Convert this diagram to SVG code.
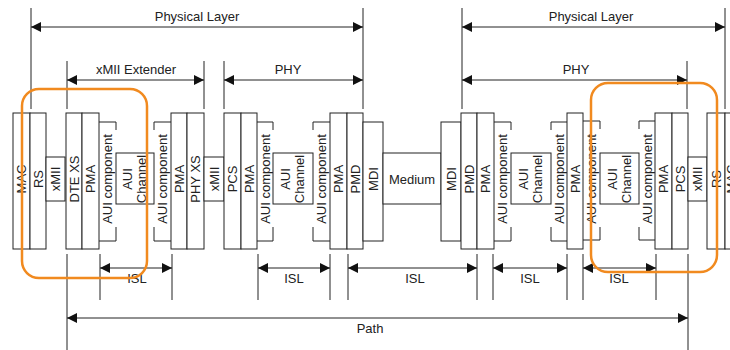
<svg xmlns="http://www.w3.org/2000/svg" width="730" height="350" viewBox="0 0 730 350">
<style>
.b{fill:#fff;stroke:#222;stroke-width:1}
.c{fill:none;stroke:#222;stroke-width:1}
.t{font-family:"Liberation Sans",Arial,sans-serif;font-size:13px;fill:#222;text-anchor:middle}
.ln{stroke:#222;stroke-width:1;fill:none}
.arr{stroke:#222;stroke-width:1;fill:none;marker-start:url(#ah);marker-end:url(#ah)}
.hl{fill:none;stroke:#F18A1F;stroke-width:2.5}
</style>
<defs>
<marker id="ah" viewBox="0 0 10 10" refX="10" refY="5" markerWidth="10" markerHeight="10" markerUnits="userSpaceOnUse" orient="auto-start-reverse"><path d="M0,0 L10,5 L0,10 z" fill="#111"/></marker>
</defs>
<rect width="730" height="350" fill="#fff"/>

<g id="connectors">
<path class="ln" d="M31,8 V109 M363,8 V109 M462,8 V109 M725,8 V109 M67,61 V109 M204,61 V109 M224,61 V109 M687,61 V109"/>
<path class="ln" d="M67,254 V350 M688,254 V350"/>
<path class="ln" d="M100,254 V300 M172,254 V300 M258,254 V300 M330,254 V300 M348,254 V300 M477,254 V300 M493,254 V300 M567,254 V300 M583,254 V300 M656,254 V300"/>
<line class="arr" x1="31" y1="27" x2="363" y2="27"/>
<line class="arr" x1="462" y1="27" x2="725" y2="27"/>
<line class="arr" x1="67" y1="80" x2="204" y2="80"/>
<line class="arr" x1="224" y1="80" x2="363" y2="80"/>
<line class="arr" x1="462" y1="80" x2="687" y2="80"/>
<line class="arr" x1="100" y1="268" x2="172" y2="268"/>
<line class="arr" x1="258" y1="268" x2="330" y2="268"/>
<line class="arr" x1="348" y1="268" x2="477" y2="268"/>
<line class="arr" x1="493" y1="268" x2="567" y2="268"/>
<line class="arr" x1="583" y1="268" x2="656" y2="268"/>
<line class="arr" x1="67" y1="318" x2="688" y2="318"/>
<text class="t" x="197" y="21">Physical Layer</text>
<text class="t" x="591" y="21">Physical Layer</text>
<text class="t" x="136" y="74">xMII Extender</text>
<text class="t" x="288" y="74">PHY</text>
<text class="t" x="576" y="74">PHY</text>
<text class="t" x="137" y="283">ISL</text>
<text class="t" x="294" y="283">ISL</text>
<text class="t" x="415" y="283">ISL</text>
<text class="t" x="530" y="283">ISL</text>
<text class="t" x="619" y="283">ISL</text>
<text class="t" x="370" y="333">Path</text>
</g>

<g id="mac-l"><rect class="b" x="13" y="113" width="17" height="136"/><text class="t" transform="translate(21.5,179) rotate(-90)" dy="0.35em">MAC</text></g>
<g id="rs-l"><rect class="b" x="30" y="113" width="16" height="136"/><text class="t" transform="translate(38,179) rotate(-90)" dy="0.35em">RS</text></g>
<g id="xmii-1"><rect class="b" x="46" y="157" width="19" height="44"/><text class="t" transform="translate(55.5,179) rotate(-90)" dy="0.35em">xMII</text></g>
<g id="dtexs"><rect class="b" x="66" y="113" width="16" height="136"/><text class="t" transform="translate(74,179) rotate(-90)" dy="0.35em">DTE XS</text></g>
<g id="pma-1"><rect class="b" x="82" y="113" width="17" height="136"/><text class="t" transform="translate(90.5,179) rotate(-90)" dy="0.35em">PMA</text></g>
<g id="aui-1"><path class="c" d="M99,122 H116 V130 M116,227 V241 H99"/><text class="t" transform="translate(107.5,179) rotate(-90)" dy="0.35em">AUI component</text></g>
<g id="ch-1"><rect class="b" x="116" y="153" width="38" height="51"/><text class="t" transform="translate(127,179) rotate(-90)" dy="0.35em">AUI</text><text class="t" transform="translate(141,179) rotate(-90)" dy="0.35em">Channel</text></g>
<g id="aui-2"><path class="c" d="M171,122 H154 V130 M154,227 V241 H171"/><text class="t" transform="translate(162.5,179) rotate(-90)" dy="0.35em">AUI component</text></g>
<g id="pma-2"><rect class="b" x="171" y="113" width="16" height="136"/><text class="t" transform="translate(179,179) rotate(-90)" dy="0.35em">PMA</text></g>
<g id="phyxs"><rect class="b" x="187" y="113" width="17" height="136"/><text class="t" transform="translate(195.5,179) rotate(-90)" dy="0.35em">PHY XS</text></g>
<g id="xmii-2"><rect class="b" x="204" y="157" width="20" height="44"/><text class="t" transform="translate(214,179) rotate(-90)" dy="0.35em">xMII</text></g>
<g id="pcs-1"><rect class="b" x="224" y="113" width="17" height="136"/><text class="t" transform="translate(232.5,179) rotate(-90)" dy="0.35em">PCS</text></g>
<g id="pma-3"><rect class="b" x="241" y="113" width="16" height="136"/><text class="t" transform="translate(249,179) rotate(-90)" dy="0.35em">PMA</text></g>
<g id="aui-3"><path class="c" d="M257,122 H273 V130 M273,227 V241 H257"/><text class="t" transform="translate(265,179) rotate(-90)" dy="0.35em">AUI component</text></g>
<g id="ch-2"><rect class="b" x="273" y="153" width="40" height="51"/><text class="t" transform="translate(285,179) rotate(-90)" dy="0.35em">AUI</text><text class="t" transform="translate(299,179) rotate(-90)" dy="0.35em">Channel</text></g>
<g id="aui-4"><path class="c" d="M330,122 H313 V130 M313,227 V241 H330"/><text class="t" transform="translate(321.5,179) rotate(-90)" dy="0.35em">AUI component</text></g>
<g id="pma-4"><rect class="b" x="330" y="113" width="17" height="136"/><text class="t" transform="translate(338.5,179) rotate(-90)" dy="0.35em">PMA</text></g>
<g id="pmd-1"><rect class="b" x="347" y="113" width="16" height="136"/><text class="t" transform="translate(355,179) rotate(-90)" dy="0.35em">PMD</text></g>
<g id="mdi-1"><rect class="b" x="363" y="122" width="20" height="119"/><text class="t" transform="translate(373,179) rotate(-90)" dy="0.35em">MDI</text></g>
<g id="medium"><rect class="b" x="383" y="153" width="58" height="51"/><text class="t" x="412" y="184">Medium</text></g>
<g id="mdi-2"><rect class="b" x="441" y="122" width="20" height="119"/><text class="t" transform="translate(451,179) rotate(-90)" dy="0.35em">MDI</text></g>
<g id="pmd-2"><rect class="b" x="461" y="113" width="16" height="136"/><text class="t" transform="translate(469,179) rotate(-90)" dy="0.35em">PMD</text></g>
<g id="pma-5"><rect class="b" x="477" y="113" width="17" height="136"/><text class="t" transform="translate(485.5,179) rotate(-90)" dy="0.35em">PMA</text></g>
<g id="aui-5"><path class="c" d="M494,122 H511 V130 M511,227 V241 H494"/><text class="t" transform="translate(502.5,179) rotate(-90)" dy="0.35em">AUI component</text></g>
<g id="ch-3"><rect class="b" x="511" y="153" width="40" height="51"/><text class="t" transform="translate(523,179) rotate(-90)" dy="0.35em">AUI</text><text class="t" transform="translate(537,179) rotate(-90)" dy="0.35em">Channel</text></g>
<g id="aui-6"><path class="c" d="M567,122 H551 V130 M551,227 V241 H567"/><text class="t" transform="translate(559,179) rotate(-90)" dy="0.35em">AUI component</text></g>
<g id="pma-6"><rect class="b" x="567" y="113" width="16" height="136"/><text class="t" transform="translate(575,179) rotate(-90)" dy="0.35em">PMA</text></g>
<g id="aui-7"><path class="c" d="M583,121 H600 V129 M600,227 V240 H583"/><text class="t" transform="translate(591.5,179) rotate(-90)" dy="0.35em">AUI component</text></g>
<g id="ch-4"><rect class="b" x="600" y="153" width="39" height="51"/><text class="t" transform="translate(612,179) rotate(-90)" dy="0.35em">AUI</text><text class="t" transform="translate(626,179) rotate(-90)" dy="0.35em">Channel</text></g>
<g id="aui-8"><path class="c" d="M655,121 H639 V129 M639,227 V240 H655"/><text class="t" transform="translate(647,179) rotate(-90)" dy="0.35em">AUI component</text></g>
<g id="pma-7"><rect class="b" x="655" y="113" width="17" height="136"/><text class="t" transform="translate(663.5,179) rotate(-90)" dy="0.35em">PMA</text></g>
<g id="pcs-2"><rect class="b" x="672" y="113" width="16" height="136"/><text class="t" transform="translate(680,179) rotate(-90)" dy="0.35em">PCS</text></g>
<g id="xmii-3"><rect class="b" x="688" y="157" width="19" height="44"/><text class="t" transform="translate(697.5,179) rotate(-90)" dy="0.35em">xMII</text></g>
<g id="rs-r"><rect class="b" x="707" y="113" width="18" height="136"/><text class="t" transform="translate(716,179) rotate(-90)" dy="0.35em">RS</text></g>
<g id="mac-r"><rect class="b" x="725" y="113" width="17" height="136"/><text class="t" transform="translate(731,179) rotate(-90)" dy="0.35em">MAC</text></g>

<g id="highlights">
<rect class="hl" x="22" y="89" width="125" height="189" rx="17"/>
<rect class="hl" x="591" y="83" width="126" height="189" rx="17"/>
</g>
</svg>
